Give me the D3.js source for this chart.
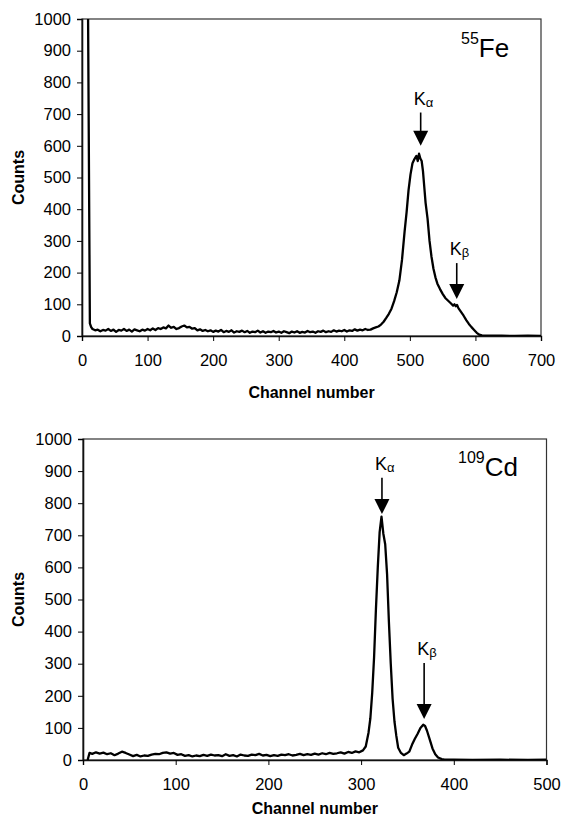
<!DOCTYPE html>
<html>
<head>
<meta charset="utf-8">
<script src="https://cdn.jsdelivr.net/npm/d3@7/dist/d3.min.js"></script>
<style>
  html, body { margin: 0; padding: 0; background: #fff; }
  svg { display: block; font-family: "Liberation Sans", Arial, Helvetica, sans-serif; }
</style>
</head>
<body>
<svg id="chart" width="561" height="819"></svg>
<script>
// tick labels
const countTicks = [0, 100, 200, 300, 400, 500, 600, 700, 800, 900, 1000];
const feChannelTicks = [0, 100, 200, 300, 400, 500, 600, 700];
const cdChannelTicks = [0, 100, 200, 300, 400, 500];

// 55Fe spectrum
const feChannel = [8, 9, 12, 14, 16, 20, 24, 28, 32, 36, 40, 44, 48, 52, 56, 60, 64, 68, 72, 76, 80, 84, 88, 92, 96,
  100, 104, 108, 112, 116, 120, 124, 128, 132, 136, 140, 144, 148, 152, 156, 160, 164, 168, 172, 176, 180, 184, 188, 192, 196,
  200, 204, 208, 212, 216, 220, 224, 228, 232, 236, 240, 244, 248, 252, 256, 260, 264, 268, 272, 276, 280, 284, 288, 292, 296,
  300, 304, 308, 312, 316, 320, 324, 328, 332, 336, 340, 344, 348, 352, 356, 360, 364, 368, 372, 376, 380, 384, 388, 392, 396,
  400, 404, 408, 412, 416, 420, 424, 428, 432, 436, 440, 444, 448, 452, 456, 460, 464, 468, 472, 476, 480, 484, 488, 492, 495,
  498, 501, 504, 507, 510, 512, 514, 516, 518, 520, 522, 524, 527, 530, 533, 536, 539, 542, 546, 550, 554, 558, 562, 566, 568,
  570, 572, 574, 578, 582, 586, 590, 594, 598, 602, 606, 610, 620, 640, 660, 680, 700];
const feCounts = [1400, 1100, 40, 28, 22, 18, 20, 15, 19, 17, 22, 16, 20, 13, 19, 17, 22, 16, 20, 14, 21, 18, 15, 20, 17,
  22, 18, 24, 19, 25, 22, 27, 24, 33, 26, 29, 22, 25, 30, 33, 27, 29, 23, 25, 18, 21, 16, 19, 15, 18,
  13, 17, 14, 19, 12, 16, 13, 18, 11, 15, 13, 17, 12, 16, 10, 14, 12, 17, 11, 15, 10, 14, 12, 16, 11,
  14, 10, 15, 12, 9, 14, 11, 15, 10, 13, 11, 16, 12, 14, 10, 15, 13, 17, 12, 15, 13, 18, 14, 17, 15,
  19, 14, 18, 16, 21, 17, 20, 18, 22, 19, 20, 24, 27, 30, 36, 45, 57, 70, 86, 110, 138, 175, 240, 330, 390,
  460, 510, 545, 558, 568, 552, 575, 560, 552, 520, 470, 420, 370, 300, 250, 212, 185, 165, 148, 133, 120, 112, 104, 96, 100,
  94, 98, 88, 76, 64, 50, 38, 28, 19, 10, 4, 2, 1, 1, 0, 1, 0];

// 109Cd spectrum
const cdChannel = [5, 7, 10, 14, 18, 22, 26, 30, 34, 38, 42, 46, 50, 54, 58, 62, 66, 70, 74, 78, 82, 86, 90, 94, 98,
  102, 106, 110, 114, 118, 122, 126, 130, 134, 138, 142, 146, 150, 154, 158, 162, 166, 170, 174, 178, 182, 186, 190, 194, 198,
  202, 206, 210, 214, 218, 222, 226, 230, 234, 238, 242, 246, 250, 254, 258, 262, 266, 270, 274, 278, 282, 286, 290, 294, 298,
  302, 305, 308, 310, 312, 314, 316, 318, 320, 322, 324, 326, 328, 330, 332, 334, 336, 338, 340, 343, 346, 349, 352, 355, 358,
  361, 364, 367, 369, 371, 374, 377, 380, 383, 387, 390, 400, 420, 450, 480, 500];
const cdCounts = [0, 22, 19, 24, 20, 23, 18, 21, 15, 20, 26, 22, 17, 12, 16, 11, 14, 13, 17, 19, 18, 22, 24, 20, 22,
  16, 18, 13, 15, 11, 14, 12, 16, 13, 17, 14, 15, 12, 18, 13, 15, 11, 17, 14, 13, 17, 15, 19, 14, 16,
  12, 15, 13, 17, 15, 18, 14, 16, 19, 15, 18, 16, 20, 17, 21, 18, 22, 19, 21, 24, 20, 25, 22, 27, 24,
  30, 42, 85, 130, 210, 320, 470, 600, 710, 758, 705, 672, 580, 430, 300, 190, 120, 75, 38, 22, 15, 20, 26, 48, 66,
  82, 100, 110, 106, 92, 64, 36, 18, 8, 3, 1, 1, 0, 1, 0, 1];

// peak markers: channel, arrow tip and arrow tail (counts)
const feMarkName = ["\u03b1", "\u03b2"];
const feMarkChannel = [516.5, 571.5];
const feMarkTip = [600, 117];
const feMarkTail = [705, 230];
const cdMarkName = ["\u03b1", "\u03b2"];
const cdMarkChannel = [322.5, 368];
const cdMarkTip = [766, 128];
const cdMarkTail = [879, 302];

const svg = d3.select("#chart");

function drawPanel(cfg) {
  const x = d3.scaleLinear().domain([0, cfg.xMax]).range([cfg.left, cfg.right]);
  const y = d3.scaleLinear().domain([0, 1000]).range([cfg.bottom, cfg.top]);
  const g = svg.append("g");

  const clipId = "clip-" + cfg.id;
  svg.append("clipPath").attr("id", clipId)
    .append("rect")
    .attr("x", cfg.left).attr("y", cfg.top)
    .attr("width", cfg.right - cfg.left).attr("height", cfg.bottom - cfg.top);

  // frame
  g.append("rect")
    .attr("x", cfg.left).attr("y", cfg.top)
    .attr("width", cfg.right - cfg.left).attr("height", cfg.bottom - cfg.top)
    .attr("fill", "none").attr("stroke", "#333").attr("stroke-width", 1.2);

  const yAxis = d3.axisLeft(y).tickValues(countTicks).tickFormat(d3.format("d")).tickSize(5).tickPadding(6);
  const ya = g.append("g").attr("transform", `translate(${cfg.left},0)`).call(yAxis);
  ya.select(".domain").attr("stroke", "#111").attr("stroke-width", 1.6);
  ya.selectAll("text").style("font-size", "16.5px").attr("fill", "#000");

  const xAxis = d3.axisBottom(x).tickValues(cfg.xTicks).tickFormat(d3.format("d")).tickSize(5).tickPadding(13);
  const xa = g.append("g").attr("transform", `translate(0,${cfg.bottom})`).call(xAxis);
  xa.select(".domain").attr("stroke", "#111").attr("stroke-width", 1.4);
  xa.selectAll("text").style("font-size", "16.5px").attr("fill", "#000");

  // spectrum
  const line = d3.line().x((d, i) => x(cfg.channel[i])).y(d => y(d));
  g.append("path")
    .datum(cfg.counts)
    .attr("clip-path", `url(#${clipId})`)
    .attr("fill", "none")
    .attr("stroke", "#000")
    .attr("stroke-width", 2.3)
    .attr("stroke-linejoin", "round")
    .attr("d", line);

  // K lines
  cfg.markChannel.forEach((ch, i) => {
    const ax = x(ch), tipY = y(cfg.markTip[i]), tailY = y(cfg.markTail[i]);
    g.append("line")
      .attr("x1", ax).attr("x2", ax)
      .attr("y1", tailY).attr("y2", tipY - 12)
      .attr("stroke", "#000").attr("stroke-width", 1.6);
    g.append("path")
      .attr("d", `M${ax - 7.5},${tipY - 15}L${ax + 7.5},${tipY - 15}L${ax},${tipY}Z`)
      .attr("fill", "#000");
    const t = g.append("text")
      .attr("x", ax - 7).attr("y", tailY - 8)
      .style("font-size", "18px");
    t.append("tspan").text("K");
    t.append("tspan").attr("dy", 2).style("font-size", "13px").text(cfg.markName[i]);
  });

  // isotope label
  const iso = g.append("text")
    .attr("x", cfg.isoX).attr("y", cfg.isoY);
  iso.append("tspan").attr("dy", -13).style("font-size", "16px").text(cfg.mass);
  iso.append("tspan").attr("dy", 13).style("font-size", "26px").text(cfg.element);

  // axis titles
  g.append("text")
    .attr("transform", `translate(24,${(cfg.top + cfg.bottom) / 2}) rotate(-90)`)
    .attr("text-anchor", "middle")
    .style("font-size", "16px").style("font-weight", "bold")
    .text("Counts");
  g.append("text")
    .attr("x", (cfg.left + cfg.right) / 2).attr("y", cfg.bottom + cfg.titleGap)
    .attr("text-anchor", "middle")
    .style("font-size", "16px").style("font-weight", "bold")
    .text("Channel number");
}

drawPanel({
  id: "fe", left: 82, right: 541, top: 19, bottom: 336, xMax: 700, xTicks: feChannelTicks,
  channel: feChannel, counts: feCounts,
  markName: feMarkName, markChannel: feMarkChannel, markTip: feMarkTip, markTail: feMarkTail,
  mass: "55", element: "Fe", isoX: 461, isoY: 57, titleGap: 62
});

drawPanel({
  id: "cd", left: 83, right: 546.5, top: 439, bottom: 760, xMax: 500, xTicks: cdChannelTicks,
  channel: cdChannel, counts: cdCounts,
  markName: cdMarkName, markChannel: cdMarkChannel, markTip: cdMarkTip, markTail: cdMarkTail,
  mass: "109", element: "Cd", isoX: 458, isoY: 476, titleGap: 54
});
</script>
</body>
</html>
